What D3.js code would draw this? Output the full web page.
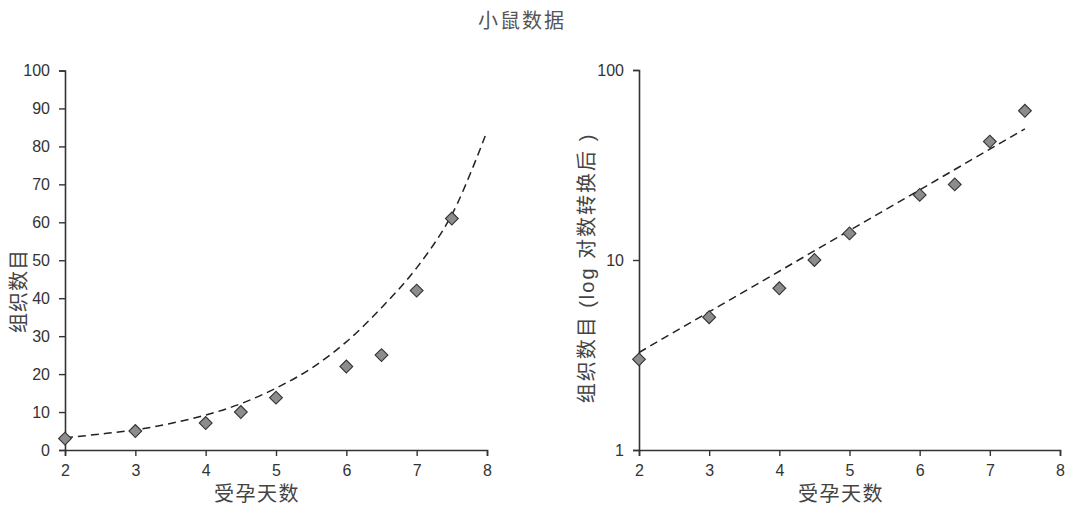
<!DOCTYPE html>
<html>
<head>
<meta charset="utf-8">
<script src="https://cdn.jsdelivr.net/npm/d3@7"></script>
<style>
  body { margin: 0; background: #fff; }
  text { font-family: "Liberation Sans", "Noto Sans CJK SC", sans-serif; }
</style>
</head>
<body>
<svg id="chart" width="1080" height="512"></svg>
<script>
// observed data (gestation day vs. tissue count)
var days = [2, 3, 4, 4.5, 5, 6, 6.5, 7, 7.5];
var counts = [3, 5, 7.1, 10, 13.8, 22, 25, 42, 61];
// dashed fit curve on the linear panel
var fitDays = [2, 2.5, 3, 3.5, 4, 4.5, 5, 5.5, 6, 6.5, 7, 7.5, 8];
var fitCounts = [3.2, 4.2, 5.3, 7.0, 9.2, 12.2, 16.3, 21.5, 28.5, 37.5, 48, 62, 84];
// dashed fit line on the log panel
var logFitDays = [2, 7.5];
var logFitCounts = [3.26, 49];
var xTicks = [2, 3, 4, 5, 6, 7, 8];
var yTicksLin = [0, 10, 20, 30, 40, 50, 60, 70, 80, 90, 100];
var yTicksLog = [1, 10, 100];

var title = "小鼠数据";
var xTitle = "受孕天数";
var yTitleLin = "组织数目";
var yTitleLog = "组织数目 (log 对数转换后 )";

var svg = d3.select("#chart");
var axisColor = "#333";

svg.append("text")
    .attr("x", 522).attr("y", 28)
    .attr("text-anchor", "middle")
    .attr("fill", "#555")
    .style("font-size", "20px")
    .style("letter-spacing", "2px")
    .text(title);

function drawPanel(opts) {
    var x = d3.scaleLinear().domain([2, 8]).range(opts.xRange);
    var y = opts.y;
    var g = svg.append("g");

    var xAxis = g.append("g")
        .attr("transform", "translate(0," + opts.y.range()[0] + ")")
        .call(d3.axisBottom(x).tickValues(xTicks).tickSize(6).tickPadding(9).tickFormat(d3.format("d")));

    var yAxis = g.append("g")
        .attr("transform", "translate(" + opts.xRange[0] + ",0)")
        .call(d3.axisLeft(y).tickValues(opts.yTicks).tickSize(6).tickPadding(9).tickFormat(d3.format("d")));

    [xAxis, yAxis].forEach(function(a) {
        a.select(".domain").attr("stroke", axisColor).attr("stroke-width", 1.6);
        a.selectAll(".tick line").attr("stroke", axisColor).attr("stroke-width", 1.4);
        a.selectAll(".tick text").attr("fill", "#333").style("font-size", "16px");
    });

    var line = d3.line()
        .x(function(d) { return x(d[0]); })
        .y(function(d) { return y(d[1]); })
        .curve(opts.curve);

    g.append("path")
        .datum(d3.zip(opts.fitX, opts.fitY))
        .attr("d", line)
        .attr("fill", "none")
        .attr("stroke", "#222")
        .attr("stroke-width", 1.5)
        .attr("stroke-dasharray", "8,5");

    g.selectAll(".pt")
        .data(d3.zip(days, counts))
        .enter().append("path")
        .attr("class", "pt")
        .attr("d", d3.symbol().type(d3.symbolSquare).size(82))
        .attr("transform", function(d) { return "translate(" + x(d[0]) + "," + y(d[1]) + ") rotate(45)"; })
        .attr("fill", "#8c8c8c")
        .attr("stroke", "#333")
        .attr("stroke-width", 1.1);

    g.append("text")
        .attr("x", opts.xTitleX).attr("y", 501)
        .attr("text-anchor", "middle")
        .attr("fill", "#444")
        .style("font-size", "20px")
        .style("letter-spacing", "1.5px")
        .text(xTitle);

    g.append("text")
        .attr("transform", "translate(" + opts.yTitle[0] + "," + opts.yTitle[1] + ") rotate(-90)")
        .attr("text-anchor", "middle")
        .attr("fill", "#444")
        .style("font-size", "20px")
        .style("letter-spacing", opts.yTitleSpacing)
        .text(opts.yTitleText);
}

drawPanel({
    xRange: [65, 487],
    y: d3.scaleLinear().domain([0, 100]).range([450, 70.5]),
    yTicks: yTicksLin,
    fitX: fitDays, fitY: fitCounts,
    curve: d3.curveCatmullRom,
    xTitleX: 257,
    yTitle: [26, 291],
    yTitleText: yTitleLin,
    yTitleSpacing: "1px"
});

drawPanel({
    xRange: [639, 1060],
    y: d3.scaleLog().domain([1, 100]).range([450, 70]),
    yTicks: yTicksLog,
    fitX: logFitDays, fitY: logFitCounts,
    curve: d3.curveLinear,
    xTitleX: 841,
    yTitle: [594, 268],
    yTitleText: yTitleLog,
    yTitleSpacing: "2px"
});
</script>
</body>
</html>
